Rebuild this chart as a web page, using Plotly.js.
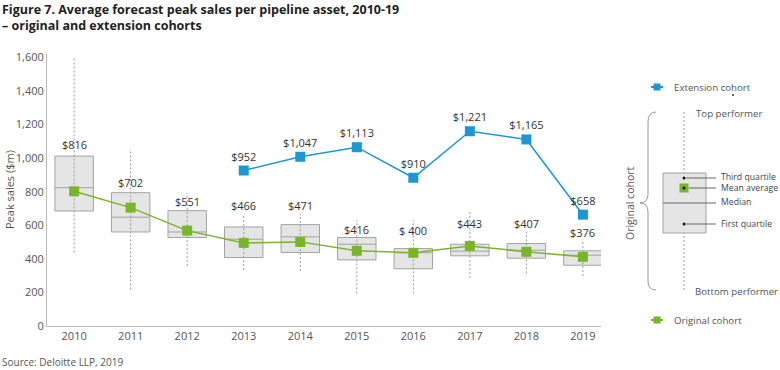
<!DOCTYPE html>
<html>
<head>
<meta charset="utf-8">
<script src="https://cdn.plot.ly/plotly-3.0.1.min.js"></script>
<style>html,body{margin:0;padding:0;background:#fff;}#chart{width:780px;height:370px;}</style>
</head>
<body>
<div id="chart"></div>
<script>
// ---- data ----
var years = ['2010','2011','2012','2013','2014','2015','2016','2017','2018','2019'];
var whiskerMin = [438, 218, 358, 333, 327, 194, 194, 287, 313, 297];
var q1 = [685, 560, 527, 408, 438, 394, 341, 418, 404, 362];
var median = [824, 648, 560, 517, 531, 487, 436, 446, 451, 422];
var q3 = [1012, 794, 687, 590, 604, 527, 461, 487, 491, 448];
var whiskerMax = [1600, 1055, 792, 659, 669, 630, 630, 693, 560, 515];
var originalMean = [802, 705, 568, 495, 501, 448, 436, 477, 442, 412];
var originalLabels = ['$816','$702','$551','$466','$471','$416','$ 400','$443','$407','$376'];
var extYears = ['2013','2014','2015','2016','2017','2018','2019'];
var extensionMean = [926, 1008, 1065, 883, 1160, 1111, 663];
var extensionLabels = ['$952','$1,047','$1,113','$910','$1,221','$1,165','$658'];
var yTicks = [0, 200, 400, 600, 800, 1000, 1200, 1400, 1600];
var yTickText = ['0','200','400','600','800','1,000','1,200','1,400','1,600'];

// ---- style constants ----
var labelShift = [12, 10, 9, 21, 19, 8, 18, 21, 20, 18]; // px above box top
var GREEN = '#78b52a', BLUE = '#1d97d4', GREY = '#a3a3a3', TXT = '#444';
var FONT = 'Open Sans, Noto Sans, sans-serif';

// plot area in pixels
var L = 47, R = 601, T = 54, B = 326;
function px(x){ return (x - L) / (R - L); }
function py(y){ return (B - y) / (B - T); }

// whisker line data
var wx = [], wy = [];
for (var i = 0; i < years.length; i++) {
  wx.push(years[i], years[i], null);
  wy.push(whiskerMin[i], whiskerMax[i], null);
}

var traces = [
  {type:'scatter', mode:'lines', x: wx, y: wy, hoverinfo:'skip', showlegend:false,
   line:{color:'#9a9a9a', width:1, dash:'2px,2px'}},
  {type:'box', x: years, q1: q1, median: median, q3: q3, lowerfence: q1, upperfence: q3,
   width: 0.68, fillcolor:'#e5e5e5', line:{color:GREY, width:1}, whiskerwidth:0,
   showlegend:false, hoverinfo:'skip'},
  {type:'scatter', mode:'lines+markers', x: years, y: originalMean, showlegend:false,
   line:{color:GREEN, width:1.5}, marker:{symbol:'square', size:10, color:GREEN}},
  {type:'scatter', mode:'lines+markers+text', x: extYears, y: extensionMean, showlegend:false,
   text: extensionLabels, textposition:'top center', textfont:{family:FONT, size:11, color:'#333'},
   line:{color:BLUE, width:1.5}, marker:{symbol:'square', size:10, color:BLUE}}
];

var annotations = [];
for (var j = 0; j < years.length; j++) {
  annotations.push({x: j, y: q3[j], xref:'x', yref:'y', text: originalLabels[j],
    showarrow:false, yanchor:'middle', yshift: labelShift[j],
    font:{family:FONT, size:11, color:'#333'}});
}
function txt(x, y, t, opts){
  var a = {x: px(x), y: py(y), xref:'paper', yref:'paper', text: t, showarrow:false,
    xanchor:'left', yanchor:'middle', font:{family:FONT, size:9.7, color:'#555'}};
  for (var k in (opts||{})) a[k] = opts[k];
  annotations.push(a);
}
// title & source
txt(0, 17, '<b>Figure 7. Average forecast peak sales per pipeline asset, 2010-19</b><br><b>– original and extension cohorts</b>',
  {font:{family:FONT, size:12.5, color:'#222'}, align:'left'});
txt(0, 362, 'Source: Deloitte LLP, 2019', {font:{family:FONT, size:10, color:'#555'}});
txt(9, 190, 'Peak sales ($m)', {textangle:-90, xanchor:'center', font:{family:FONT, size:11, color:'#555'}});
// schematic legend texts
txt(672, 87, 'Extension cohort');
txt(672, 320, 'Original cohort');
txt(694, 113, 'Top performer');
txt(693, 291, 'Bottom performer');
var small = {family:FONT, size:8.7, color:TXT};
txt(719, 177, 'Third quartile', {font:small});
txt(719, 188, 'Mean average', {font:small});
txt(719, 202, 'Median', {font:small});
txt(719, 224, 'First quartile', {font:small});
txt(630, 203, 'Original cohort', {textangle:-90, xanchor:'center', font:{family:FONT, size:10.5, color:'#555'}});

function rect(x0,y0,x1,y1,fill,line){
  return {type:'rect', xref:'paper', yref:'paper', x0:px(x0), x1:px(x1), y0:py(y0), y1:py(y1),
    fillcolor: fill, line:{color: line || fill, width: line ? 1 : 0}};
}
function seg(x0,y0,x1,y1,color,w,dash){
  return {type:'line', xref:'paper', yref:'paper', x0:px(x0), x1:px(x1), y0:py(y0), y1:py(y1),
    line:{color:color, width:w||1, dash:dash||'solid'}};
}
function dot(x,y,r,color){
  return {type:'circle', xref:'paper', yref:'paper', x0:px(x-r), x1:px(x+r), y0:py(y-r), y1:py(y+r),
    fillcolor:color, line:{width:0}};
}
function P(x,y){ return px(x) + ',' + py(y); }
var brace = 'M' + P(656,112) + ' Q' + P(648,112) + ' ' + P(648,122) + ' L' + P(648,194) +
  ' Q' + P(648,203) + ' ' + P(640,203) + ' Q' + P(648,203) + ' ' + P(648,212) +
  ' L' + P(648,281) + ' Q' + P(648,290) + ' ' + P(656,290);

var shapes = [
  seg(651,87,663,87,BLUE,2), rect(653.5,83.5,660.5,90.5,BLUE),
  seg(651,320,663,320,GREEN,2), rect(653.5,316.5,660.5,323.5,GREEN),
  dot(733,95,0.9,'#222'),
  seg(684,112,684,290,'#999',1,'2px,2px'),
  rect(663,173,706,233,'#e5e5e5','#a3a3a3'),
  seg(663,203,716,203,'#666',1),
  rect(679.5,183.5,688.5,192.5,GREEN),
  dot(684,188,1.5,'#111'), dot(684,178,1.5,'#111'), dot(684,224,1.5,'#111'),
  seg(686,178,716,178,'#444',0.8), seg(689,188,716,188,'#444',0.8), seg(686,224,716,224,'#444',0.8),
  {type:'path', xref:'paper', yref:'paper', path: brace, line:{color:'#999', width:1}}
];

var layout = {
  width:780, height:370, paper_bgcolor:'#fff', plot_bgcolor:'#fff',
  margin:{l:L, r:780-R, t:T, b:370-B, pad:0},
  font:{family:FONT, size:11, color:'#555'},
  showlegend:false,
  xaxis:{type:'category', range:[-0.48, 9.32], showgrid:false, zeroline:false,
    showline:true, linecolor:'#bbb', linewidth:1, ticks:'', tickfont:{family:FONT, size:11, color:'#555'},
    fixedrange:true},
  yaxis:{range:[0,1620], tickvals:yTicks, ticktext:yTickText, showgrid:false, zeroline:false,
    showline:true, linecolor:'#bbb', linewidth:1, ticks:'', tickfont:{family:FONT, size:11, color:'#555'},
    fixedrange:true},
  shapes: shapes, annotations: annotations
};
Plotly.newPlot('chart', traces, layout, {staticPlot:true});
</script>
</body>
</html>
